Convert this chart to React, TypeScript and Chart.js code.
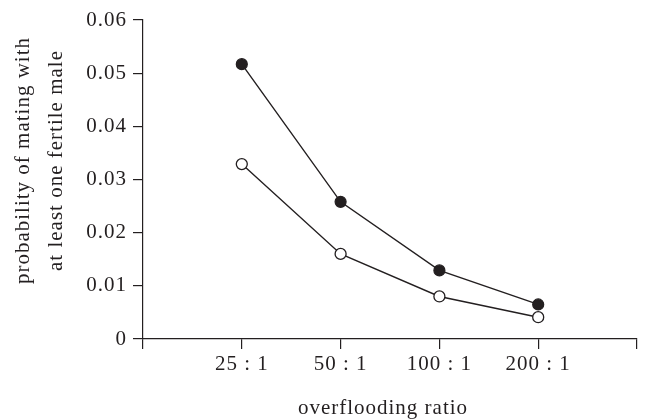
import React, { useEffect, useRef } from "react";
import { Chart, registerables } from "chart.js";

Chart.register(...registerables);

const categories = ["25 : 1", "50 : 1", "100 : 1", "200 : 1"];
const filledSeries = [0.0517, 0.0258, 0.0129, 0.0065];
const openSeries = [0.0329, 0.016, 0.008, 0.0041];
const yTicks = [0, 0.01, 0.02, 0.03, 0.04, 0.05, 0.06];
const yTitleLines = ["probability of mating with", "at least one fertile male"];
const xTitle = "overflooding ratio";

const FONT = "'Liberation Serif', 'Times New Roman', serif";
const INK = "#231f20";
const FS = 21;
const LS = "1px";

const spacingPlugin = {
  id: "letterSpacing",
  beforeDraw(chart: any) {
    (chart.ctx as any).letterSpacing = LS;
  },
  beforeLayout(chart: any) {
    (chart.ctx as any).letterSpacing = LS;
  },
};

const titlesPlugin = {
  id: "axisTitles",
  afterDraw(chart: any) {
    const ctx = chart.ctx;
    const area = chart.chartArea;
    // y title (two rotated lines)
    const cy = (area.top + area.bottom) / 2 - 19;
    const baselines = [28.5, 61.5];
    ctx.save();
    (ctx as any).letterSpacing = LS;
    ctx.font = `${FS}px ${FONT}`;
    ctx.fillStyle = INK;
    ctx.textAlign = "center";
    ctx.textBaseline = "alphabetic";
    ctx.translate(0, cy);
    ctx.rotate(-Math.PI / 2);
    yTitleLines.forEach((line, i) => ctx.fillText(line, 0, baselines[i]));
    ctx.restore();
    // x title
    ctx.save();
    (ctx as any).letterSpacing = LS;
    ctx.font = `${FS}px ${FONT}`;
    ctx.fillStyle = INK;
    ctx.textAlign = "center";
    ctx.textBaseline = "alphabetic";
    ctx.fillText(xTitle, (area.left + area.right) / 2 - 7, chart.height - 6);
    ctx.restore();
  },
};

export default function App() {
  const ref = useRef<HTMLCanvasElement | null>(null);

  useEffect(() => {
    document.body.style.margin = "0";
    const canvas = ref.current;
    if (!canvas) return;
    const toPoints = (arr: number[]) => arr.map((y, i) => ({ x: i + 1, y }));
    const chart = new Chart(canvas, {
      type: "line",
      data: {
        datasets: [
          {
            data: toPoints(filledSeries),
            borderColor: INK,
            borderWidth: 1.4,
            pointRadius: 5.5,
            pointBackgroundColor: INK,
            pointBorderColor: INK,
            pointBorderWidth: 1.2,
            tension: 0,
          },
          {
            data: toPoints(openSeries),
            borderColor: INK,
            borderWidth: 1.4,
            pointRadius: 5.5,
            pointBackgroundColor: "#ffffff",
            pointBorderColor: INK,
            pointBorderWidth: 1.3,
            tension: 0,
          },
        ],
      },
      plugins: [spacingPlugin, titlesPlugin],
      options: {
        animation: false,
        responsive: false,
        maintainAspectRatio: false,
        layout: { padding: { top: 20, right: 12, bottom: 0, left: 0 } },
        plugins: { legend: { display: false }, tooltip: { enabled: false } },
        scales: {
          x: {
            type: "linear",
            min: 0,
            max: categories.length + 1,
            afterBuildTicks: (scale: any) => {
              scale.ticks = Array.from({ length: categories.length + 2 }, (_, i) => ({ value: i }));
            },
            afterFit: (scale: any) => {
              scale.height = 81;
            },
            ticks: {
              autoSkip: false,
              maxRotation: 0,
              color: INK,
              font: { family: FONT, size: FS },
              padding: 2.5,
              callback: (v: any) => {
                const i = Number(v) - 1;
                return categories[i] ?? "";
              },
            },
            grid: {
              drawOnChartArea: false,
              drawTicks: true,
              tickLength: 10,
              color: INK,
              lineWidth: 1.2,
            },
            border: { display: true, color: INK, width: 1.2 },
            title: { display: false },
          },
          y: {
            type: "linear",
            min: 0,
            max: 0.06,
            afterBuildTicks: (scale: any) => {
              scale.ticks = yTicks.map((value) => ({ value }));
            },
            afterFit: (scale: any) => {
              scale.width = 143;
            },
            ticks: {
              color: INK,
              font: { family: FONT, size: FS },
              padding: 6,
              callback: (v: any) => (Number(v) === 0 ? "0" : Number(v).toFixed(2)),
            },
            grid: {
              drawOnChartArea: false,
              drawTicks: true,
              tickLength: 10,
              color: INK,
              lineWidth: 1.2,
            },
            border: { display: true, color: INK, width: 1.2 },
            title: { display: false },
          },
        },
      },
    });
    return () => chart.destroy();
  }, []);

  return (
    <div style={{ width: 649, height: 420, background: "#fff" }}>
      <canvas ref={ref} width={649} height={420} style={{ display: "block" }} />
    </div>
  );
}
